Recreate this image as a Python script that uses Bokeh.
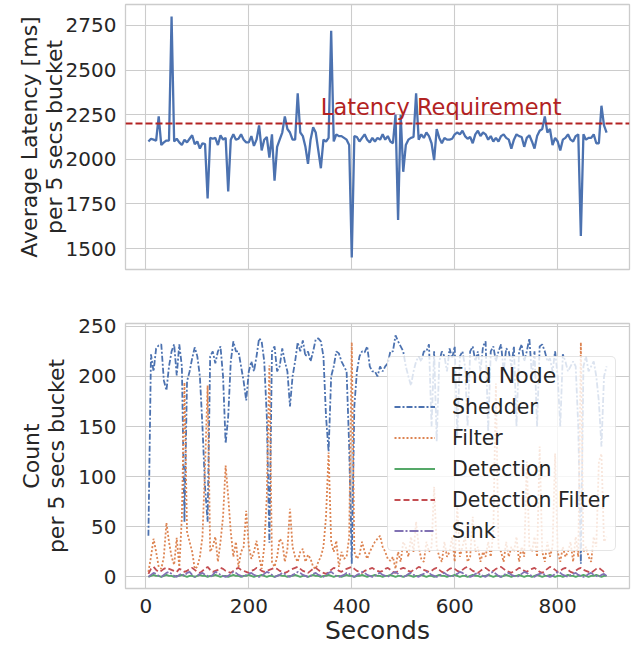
from bokeh.plotting import figure
from bokeh.layouts import column
from bokeh.models import Span, Label, Legend, LegendItem, FixedTicker, Range1d
from bokeh.embed import file_html
from bokeh.resources import INLINE

# ---------------- data (5-second buckets, x = 5 .. 895 s) ----------------
latency = [
    2100, 2115, 2110, 2105, 2240, 2080, 2095, 2105, 2105, 2800,
    2100, 2115, 2095, 2080, 2110, 2095, 2115, 2135, 2085, 2100,
    2060, 2090, 2085, 1780, 2120, 2115, 2120, 2080, 2135, 2110,
    2120, 1820, 2110, 2140, 2110, 2115, 2140, 2110, 2095, 2095,
    2130, 2075, 2110, 2190, 2050, 2110, 2125, 2010, 2140, 1880,
    2070, 2110, 2150, 2240, 2170, 2150, 2110, 2110, 2370, 2150,
    2130, 2070, 1975, 2110, 2180, 2150, 2050, 1950, 2110, 2100,
    2120, 2720, 2100, 2140, 2130, 2130, 2120, 2110, 2080, 1450,
    2130, 2125, 2100, 2120, 2140, 2110, 2095, 2120, 2100, 2120,
    2110, 2140, 2110, 2130, 2100, 2090, 2250, 1660, 2250, 1930,
    2080, 2110, 2120, 2125, 2370, 2110, 2140, 2120, 2150, 2130,
    2090, 1995, 2170, 2120, 2090, 2120, 2110, 2110, 2115, 2140,
    2150, 2140, 2160, 2130, 2115, 2125, 2090, 2140, 2160, 2130,
    2150, 2140, 2110, 2130, 2100, 2120, 2100, 2130, 2140, 2120,
    2110, 2060, 2110, 2140, 2130, 2125, 2070, 2120, 2135, 2100,
    2060, 2130, 2160, 2170, 2240, 2150, 2170, 2080, 2120, 2100,
    2050, 2110, 2120, 2140, 2110, 2100, 2130, 2140, 1570, 2140,
    2110, 2120, 2120, 2140, 2090, 2090, 2300, 2190, 2150,
]

shedder = [
    41, 222, 205, 228, 231, 232, 196, 186, 210, 225,
    232, 201, 232, 210, 55, 195, 205, 218, 229, 220,
    200, 150, 90, 55, 220, 225, 213, 225, 230, 200,
    133, 160, 215, 235, 225, 225, 210, 195, 176, 205,
    215, 205, 220, 238, 235, 215, 160, 34, 225, 230,
    205, 210, 228, 215, 205, 170, 200, 215, 234, 225,
    236, 220, 225, 215, 225, 237, 238, 235, 220, 160,
    125, 200, 210, 225, 223, 215, 210, 205, 130, 13,
    170, 205, 220, 225, 224, 230, 210, 205, 205, 200,
    210, 205, 210, 213, 225, 225, 241, 235, 230, 225,
    210, 200, 191, 205, 215, 220, 215, 225, 225, 232,
    150, 225, 135, 215, 225, 220, 205, 228, 218, 230,
    140, 220, 225, 210, 150, 225, 230, 215, 225, 205,
    230, 235, 145, 225, 230, 215, 225, 232, 205, 228,
    225, 210, 230, 150, 225, 232, 215, 225, 238, 200,
    225, 150, 230, 232, 225, 215, 218, 205, 225, 200,
    150, 222, 215, 205, 210, 215, 210, 150, 13, 210,
    220, 205, 210, 215, 200, 175, 130, 200, 210,
]

filter_ = [
    5, 20, 38, 25, 10, 8, 20, 54, 35, 20,
    12, 39, 10, 60, 194, 45, 35, 25, 8, 10,
    20, 40, 110, 191, 25, 30, 40, 15, 35, 60,
    111, 80, 45, 20, 35, 10, 25, 30, 66, 30,
    18, 25, 36, 20, 8, 30, 80, 211, 15, 10,
    20, 38, 35, 15, 28, 68, 30, 20, 15, 25,
    28, 15, 22, 18, 10, 8, 15, 20, 30, 60,
    124, 35, 25, 36, 10, 25, 18, 20, 40, 234,
    25, 18, 22, 35, 25, 18, 25, 30, 35, 38,
    41, 30, 25, 18, 16, 20, 8, 25, 15, 35,
    30, 20, 40, 25, 55, 30, 18, 15, 35, 25,
    30, 90, 30, 20, 15, 35, 20, 25, 40, 15,
    70, 20, 30, 40, 15, 20, 60, 25, 30, 15,
    25, 20, 35, 20, 45, 193, 30, 25, 15, 35,
    20, 30, 25, 40, 15, 30, 20, 115, 30, 25,
    40, 20, 130, 25, 15, 35, 20, 30, 123, 25,
    15, 30, 20, 25, 35, 15, 40, 20, 234, 25,
    30, 20, 15, 40, 30, 115, 123, 35, 40,
]

detection = [
    0, 1, 2, 1, 1, 0, 1, 2, 1, 1,
    0, 1, 1, 2, 1, 0, 1, 1, 0, 1,
    2, 1, 1, 0, 1, 1, 2, 1, 0, 1,
    1, 0, 1, 2, 1, 1, 0, 1, 1, 2,
    1, 0, 1, 1, 2, 1, 0, 1, 1, 0,
    1, 2, 1, 1, 0, 1, 1, 2, 1, 0,
    1, 1, 0, 1, 2, 1, 1, 0, 1, 1,
    2, 1, 0, 1, 1, 0, 1, 2, 1, 1,
    0, 1, 1, 2, 1, 0, 1, 1, 2, 1,
    1, 0, 1, 1, 2, 1, 0, 1, 1, 0,
    1, 2, 1, 0, 1, 1, 2, 1, 0, 1,
    1, 0, 1, 2, 1, 1, 0, 1, 1, 2,
    1, 0, 1, 1, 0, 1, 2, 1, 1, 0,
    1, 1, 2, 1, 0, 1, 1, 0, 1, 2,
    1, 0, 1, 1, 2, 1, 0, 1, 1, 0,
    1, 2, 1, 0, 1, 1, 2, 1, 0, 1,
    1, 0, 1, 2, 1, 1, 0, 1, 1, 2,
    1, 0, 1, 1, 2, 1, 0, 1, 1,
]

detection_filter = [
    3, 8, 10, 7, 5, 6, 8, 9, 8, 7,
    6, 5, 8, 7, 5, 6, 8, 9, 7, 5,
    4, 6, 8, 10, 7, 5, 6, 7, 9, 8,
    6, 5, 4, 6, 8, 9, 7, 6, 5, 4,
    6, 7, 9, 8, 6, 5, 6, 7, 8, 9,
    8, 6, 5, 4, 5, 7, 8, 9, 10, 8,
    6, 5, 4, 6, 8, 9, 7, 5, 4, 3,
    5, 7, 9, 8, 6, 5, 7, 8, 9, 10,
    8, 6, 5, 4, 6, 7, 8, 9, 7, 6,
    5, 6, 8, 9, 7, 5, 4, 6, 8, 9,
    8, 6, 5, 7, 8, 10, 9, 7, 6, 5,
    6, 8, 9, 7, 5, 4, 6, 8, 9, 8,
    6, 5, 7, 9, 10, 8, 6, 5, 4, 6,
    8, 9, 7, 5, 6, 8, 9, 10, 8, 6,
    5, 4, 6, 7, 9, 8, 6, 5, 7, 8,
    9, 7, 5, 4, 6, 8, 10, 9, 7, 5,
    6, 8, 9, 7, 5, 4, 6, 8, 9, 7,
    6, 5, 4, 6, 8, 9, 7, 5, 4,
]

sink = [
    0, 2, 4, 3, 1, 0, 2, 4, 5, 3,
    1, 0, 2, 3, 1, 4, 5, 2, 0, 1,
    3, 4, 2, 1, 0, 2, 5, 4, 2, 1,
    0, 1, 3, 5, 4, 2, 1, 0, 2, 3,
    4, 2, 1, 0, 1, 3, 5, 4, 2, 0,
    1, 2, 4, 3, 1, 0, 2, 3, 5, 4,
    2, 1, 0, 1, 3, 4, 2, 1, 0, 2,
    4, 5, 3, 1, 0, 1, 2, 4, 3, 1,
    0, 2, 3, 5, 4, 2, 1, 0, 1, 3,
    4, 2, 1, 0, 2, 4, 5, 3, 1, 0,
    1, 3, 4, 2, 1, 0, 2, 3, 5, 4,
    2, 1, 0, 1, 3, 4, 2, 1, 0, 2,
    3, 5, 4, 2, 1, 0, 1, 3, 4, 2,
    1, 0, 2, 4, 5, 3, 1, 0, 2, 3,
    4, 2, 1, 0, 1, 3, 5, 4, 2, 1,
    0, 2, 3, 4, 2, 1, 0, 1, 3, 5,
    4, 2, 1, 0, 2, 3, 4, 2, 1, 0,
    1, 3, 4, 2, 1, 0, 2, 3, 1,
]

end_nodes = ["Shedder", "Filter", "Detection", "Detection Filter", "Sink"]
latency_requirement = 2200
requirement_label = "Latency Requirement"

x_ticks = [0, 200, 400, 600, 800]
latency_ticks = [1500, 1750, 2000, 2250, 2500, 2750]
count_ticks = [0, 50, 100, 150, 200, 250]

bucket = 5
seconds = [bucket * (i + 1) for i in range(len(latency))]

# ---------------- styling ----------------
FONT = "DejaVu Sans"
TXT = "#262626"
GRID = "#cccccc"
palette = ["#4c72b0", "#dd8452", "#55a868", "#c44e52", "#8172b3"]
dashes = ["6 2 2 2", "2 2", "solid", "6 3", "9 2 2 2"]
W = 635


def style(p, yticks):
    p.outline_line_color = GRID
    p.outline_line_width = 1.3
    p.background_fill_color = "white"
    p.border_fill_color = "white"
    for g in (p.xgrid, p.ygrid):
        g.grid_line_color = GRID
        g.grid_line_width = 1.1
    p.xgrid.ticker = FixedTicker(ticks=x_ticks)
    p.ygrid.ticker = FixedTicker(ticks=yticks)
    for ax in (p.xaxis, p.yaxis):
        ax.axis_line_color = None
        ax.major_tick_line_color = None
        ax.minor_tick_line_color = None
        ax.major_tick_out = 0
        ax.major_tick_in = 0
        ax.major_label_text_font = FONT
        ax.major_label_text_font_size = "20px"
        ax.major_label_text_color = TXT
        ax.axis_label_text_font = FONT
        ax.axis_label_text_font_style = "normal"
        ax.axis_label_text_color = TXT
        ax.axis_label_text_font_size = "22px"
        ax.axis_label_text_line_height = 1.0
    p.xaxis.ticker = FixedTicker(ticks=x_ticks)
    p.yaxis.ticker = FixedTicker(ticks=yticks)
    p.yaxis.major_label_standoff = 9


# ---------------- top: latency ----------------
p1 = figure(width=W, height=300, output_backend="svg", toolbar_location=None,
            x_range=Range1d(-39.5, 939.5), y_range=Range1d(1382.5, 2867.5),
            min_border_left=125, min_border_right=6, min_border_top=4,
            min_border_bottom=31)
style(p1, latency_ticks)
p1.xaxis.visible = False
p1.yaxis.axis_label = "Average Latency [ms]\nper 5 secs bucket"
p1.yaxis.axis_label_standoff = -4

p1.line(seconds, latency, line_color=palette[0], line_width=2.3)
p1.add_layout(Span(location=latency_requirement, dimension="width",
                   line_color="#b22222", line_dash="7 3", line_width=2))
p1.add_layout(Label(x=340, y=2292, text=requirement_label, text_color="#b22222",
                    text_font=FONT, text_font_size="22.5px",
                    text_baseline="alphabetic"))

# ---------------- bottom: counts per end node ----------------
p2 = figure(width=W, height=348, output_backend="svg", toolbar_location=None,
            x_range=p1.x_range, y_range=Range1d(-11.6, 252.8),
            min_border_left=125, min_border_right=6, min_border_top=23,
            min_border_bottom=60)
style(p2, count_ticks)
p2.yaxis.axis_label = "Count\nper 5 secs bucket"
p2.yaxis.axis_label_standoff = 6
p2.xaxis.axis_label = "Seconds"
p2.xaxis.axis_label_text_font_size = "25px"
p2.xaxis.major_label_standoff = 10
p2.xaxis.axis_label_standoff = 0

series = [shedder, filter_, detection, detection_filter, sink]
items = []
for name, vals, col, dash in zip(end_nodes, series, palette, dashes):
    xs = [bucket * (i + 1) for i in range(len(vals))]
    r = p2.line(xs, vals, line_color=col, line_width=1.8, line_dash=dash)
    items.append(LegendItem(label=name, renderers=[r]))

legend = Legend(items=items, location=(262, 37),
                title="\u00a0" * 8 + "End Node",
                title_text_font=FONT, title_text_font_size="22px",
                title_text_color=TXT, title_text_font_style="normal",
                title_standoff=5,
                label_text_font=FONT, label_text_font_size="20.5px",
                label_text_color=TXT,
                glyph_width=41, glyph_height=27, label_height=27,
                label_standoff=17, spacing=4, padding=6, margin=0,
                background_fill_color="white", background_fill_alpha=0.8,
                border_line_color=GRID, border_line_width=1)
try:
    legend.border_radius = 5
except Exception:
    pass
p2.add_layout(legend)

layout = column(p1, p2, spacing=0)
open("out.html", "w").write(file_html(layout, INLINE))
